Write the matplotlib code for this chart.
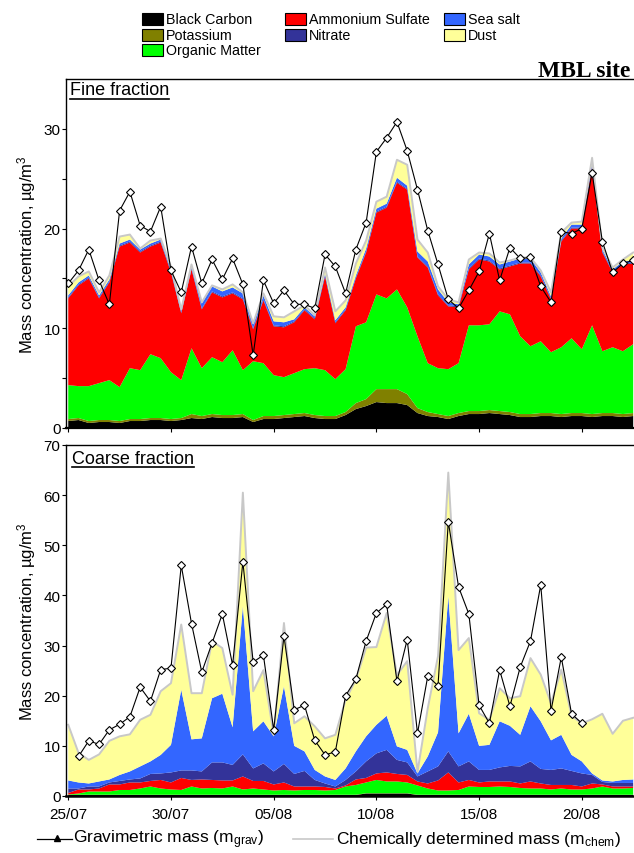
import numpy as np
import matplotlib
matplotlib.use('Agg')
import matplotlib.pyplot as plt
from matplotlib.patches import Rectangle
from matplotlib.lines import Line2D

plt.rcParams['font.family'] = ['Liberation Sans', 'DejaVu Sans']
plt.rcParams['mathtext.fontset'] = 'custom'
plt.rcParams['mathtext.rm'] = 'Liberation Sans'
plt.rcParams['mathtext.it'] = 'Liberation Sans:italic'

# half-day samples, 25/07 -> 22/08
x = np.arange(56)
tick_pos = [0, 10, 20, 30, 40, 50]
tick_labels = ['25/07', '30/07', '05/08', '10/08', '15/08', '20/08']

species = ['Black Carbon', 'Potassium', 'Organic Matter',
           'Ammonium Sulfate', 'Nitrate', 'Sea salt', 'Dust']
colors = ['#000000', '#808000', '#00ff00', '#ff0000', '#333399', '#3366ff', '#ffff99']

# ---------------- fine fraction (ug/m3) ----------------
fine_bc = [0.7, 0.8, 0.5, 0.6, 0.6, 0.5, 0.7, 0.7, 0.8, 0.8,
           0.7, 0.8, 1.0, 0.9, 1.1, 1.0, 1.0, 1.1, 0.6, 0.9,
           0.9, 1.0, 1.1, 1.2, 1.0, 0.9, 0.9, 1.3, 1.9, 2.2,
           2.6, 2.5, 2.5, 2.3, 1.5, 1.2, 1.1, 0.9, 1.2, 1.4,
           1.4, 1.5, 1.4, 1.3, 1.1, 1.1, 1.2, 1.2, 1.1, 1.2,
           1.2, 1.1, 1.2, 1.2, 1.1, 1.2]
fine_k = [0.2, 0.2, 0.2, 0.2, 0.2, 0.2, 0.2, 0.2, 0.2, 0.2,
          0.2, 0.2, 0.4, 0.3, 0.3, 0.3, 0.3, 0.3, 0.2, 0.3,
          0.3, 0.3, 0.3, 0.3, 0.3, 0.3, 0.3, 0.3, 0.6, 0.7,
          1.3, 1.4, 1.4, 1.1, 0.5, 0.4, 0.3, 0.3, 0.3, 0.3,
          0.3, 0.3, 0.3, 0.3, 0.3, 0.3, 0.3, 0.3, 0.3, 0.3,
          0.3, 0.3, 0.3, 0.3, 0.3, 0.3]
# top of organic matter band (BC + K + OM)
fine_top_om = [4.3, 4.2, 4.2, 4.5, 4.8, 4.1, 6.0, 5.8, 7.4, 7.0,
               5.6, 4.8, 8.0, 6.0, 7.1, 6.6, 7.8, 5.8, 6.7, 6.5,
               5.3, 5.1, 5.5, 5.9, 6.0, 5.8, 4.9, 5.9, 10.2, 10.6,
               13.4, 13.0, 13.9, 12.1, 9.2, 6.5, 6.0, 5.9, 6.5, 10.3,
               10.3, 10.4, 11.7, 11.4, 9.2, 8.2, 8.7, 7.6, 8.1, 9.0,
               7.9, 10.3, 7.7, 8.1, 7.7, 8.4]
# top of ammonium sulfate band
fine_top_as = [13.0, 14.3, 15.0, 13.0, 14.6, 18.2, 18.6, 17.6, 18.2, 18.6,
               15.6, 11.5, 15.9, 11.9, 13.6, 13.1, 13.5, 12.9, 9.9, 12.8,
               10.2, 10.1, 10.6, 11.8, 10.9, 15.2, 10.5, 11.8, 15.0, 17.6,
               21.6, 22.1, 24.6, 23.9, 17.1, 16.1, 13.3, 12.2, 12.1, 15.9,
               16.9, 16.7, 15.9, 16.2, 16.5, 16.5, 15.2, 12.9, 18.7, 20.0,
               20.0, 26.2, 17.6, 15.6, 16.4, 16.5]
fine_nit = [0.1] * 56
fine_ss = [0.2, 0.2, 0.2, 0.2, 0.2, 0.2, 0.2, 0.2, 0.2, 0.2,
           0.2, 0.2, 0.2, 0.5, 0.5, 0.5, 0.5, 0.5, 0.4, 0.4,
           0.4, 0.4, 0.2, 0.2, 0.2, 0.2, 0.2, 0.2, 0.2, 0.3,
           0.3, 0.3, 0.4, 0.3, 0.5, 0.5, 0.5, 0.3, 0.2, 0.4,
           0.4, 0.4, 0.4, 0.4, 0.4, 0.4, 0.3, 0.2, 0.2, 0.3,
           0.3, 0.3, 0.2, 0.2, 0.2, 0.2]
fine_chem = [14.2, 15.2, 15.7, 13.6, 15.3, 19.2, 19.4, 18.0, 18.8, 19.0,
             16.2, 11.9, 16.4, 12.6, 14.3, 13.9, 14.4, 13.6, 10.5, 13.5,
             11.2, 11.1, 11.7, 12.3, 11.3, 16.1, 11.7, 12.8, 16.5, 18.8,
             22.7, 23.2, 26.9, 26.4, 18.9, 17.6, 14.2, 12.9, 12.6, 16.9,
             17.6, 17.5, 16.6, 16.8, 17.1, 17.1, 15.8, 13.6, 19.6, 20.6,
             20.7, 27.1, 18.1, 16.1, 16.9, 17.6]
fine_grav = [14.5, 15.8, 17.9, 14.8, 12.4, 21.8, 23.7, 20.3, 19.7, 22.2,
             15.8, 13.6, 18.2, 14.5, 16.9, 14.9, 17.0, 14.4, 7.3, 14.8,
             12.5, 13.8, 12.4, 12.4, 12.0, 17.4, 16.2, 13.5, 17.9, 20.6,
             27.7, 29.1, 30.7, 27.8, 23.9, 19.8, 16.4, 12.9, 12.0, 13.8,
             15.7, 19.5, 14.8, 18.1, 17.0, 17.1, 14.2, 12.6, 19.7, 19.5,
             20.0, 25.6, 18.7, 15.6, 16.5, 16.8]

# ---------------- coarse fraction (ug/m3) ----------------
coarse_bc = [0.2] * 29 + [0.5, 0.5, 0.5, 0.5, 0.5] + [0.2] * 22
coarse_k = [0.05] * 56
coarse_top_om = [0.3, 0.5, 0.9, 0.9, 0.9, 1.2, 1.2, 1.5, 1.9, 1.5,
                 1.3, 1.2, 1.9, 1.5, 1.6, 1.5, 1.9, 1.3, 1.5, 1.3,
                 1.1, 1.2, 1.1, 1.2, 1.2, 1.1, 1.2, 1.9, 2.2, 2.7,
                 3.2, 2.9, 2.9, 2.7, 2.1, 1.5, 1.1, 1.1, 1.2, 1.9,
                 1.8, 1.8, 1.9, 1.8, 1.6, 1.5, 1.5, 1.3, 1.5, 1.3,
                 1.3, 1.5, 1.9, 1.5, 1.5, 1.6]
coarse_top_as = [0.6, 1.3, 1.3, 1.5, 2.3, 2.3, 2.7, 2.7, 3.0, 3.2,
                 2.7, 3.6, 3.2, 3.3, 3.2, 3.1, 3.1, 3.9, 3.0, 3.0,
                 2.3, 2.7, 1.9, 1.9, 1.9, 1.8, 1.5, 2.1, 3.3, 3.6,
                 4.5, 4.7, 4.4, 4.2, 2.9, 2.5, 3.1, 4.7, 2.7, 3.2,
                 2.7, 2.9, 2.9, 2.9, 2.5, 2.9, 2.5, 2.2, 2.2, 2.2,
                 1.9, 2.5, 2.3, 1.9, 1.9, 1.9]
coarse_top_nit = [1.5, 1.5, 1.9, 1.9, 2.7, 3.0, 3.3, 3.5, 4.4, 4.5,
                  4.7, 5.1, 5.1, 4.9, 6.7, 6.7, 6.2, 8.3, 5.5, 6.5,
                  4.9, 6.4, 4.4, 5.0, 3.2, 2.5, 1.9, 3.2, 4.9, 6.9,
                  8.5, 9.2, 7.2, 6.7, 3.9, 4.9, 5.9, 8.9, 5.9, 6.9,
                  5.2, 5.2, 5.7, 6.0, 5.9, 6.9, 5.4, 5.2, 5.5, 5.0,
                  4.5, 4.2, 2.8, 2.6, 2.6, 2.6]
coarse_top_ss = [3.1, 2.7, 2.5, 2.9, 3.3, 4.2, 4.9, 5.9, 6.9, 8.2,
                 10.2, 21.2, 11.3, 11.5, 19.5, 20.4, 13.7, 37.9, 12.9, 14.9,
                 11.9, 21.9, 10.0, 8.9, 5.2, 3.9, 3.2, 5.5, 8.9, 11.9,
                 14.2, 16.0, 9.9, 9.2, 4.5, 7.9, 12.7, 39.9, 12.5, 16.4,
                 10.0, 10.2, 14.9, 14.0, 12.2, 17.9, 14.9, 11.1, 12.2, 8.2,
                 6.9, 4.5, 3.1, 2.9, 3.2, 3.3]
coarse_chem = [14.2, 8.6, 7.2, 8.3, 11.0, 11.9, 12.3, 15.2, 16.2, 20.9,
               22.5, 34.2, 20.5, 20.5, 30.9, 29.5, 20.2, 60.5, 20.9, 25.1,
               12.2, 34.5, 14.5, 15.9, 13.9, 11.5, 12.2, 19.2, 23.2, 29.6,
               29.7, 36.5, 24.1, 26.9, 4.8, 17.5, 27.9, 64.5, 29.1, 31.5,
               16.5, 15.2, 21.5, 19.5, 19.9, 27.5, 24.2, 18.5, 25.2, 16.0,
               14.5, 15.3, 16.4, 12.4, 15.0, 15.6]
nan = np.nan
coarse_grav = [nan, 7.9, 11.0, 10.3, 13.2, 14.3, 15.8, 21.7, 18.9, 25.2,
               25.5, 46.0, 34.4, 24.7, 30.5, 36.3, 26.1, 46.7, 26.7, 28.1,
               13.2, 31.9, 17.2, 18.1, 11.1, 8.2, 8.8, 20.0, 23.3, 30.9,
               36.5, 38.2, 22.9, 31.2, 12.5, 23.9, 22.0, 54.7, 41.7, 36.3,
               18.1, 14.5, 25.1, 17.9, 25.7, 30.9, 42.1, 17.0, 27.7, 16.4,
               14.5, nan, nan, nan, nan, nan]


def fine_layers():
    bc = np.array(fine_bc)
    k = np.array(fine_k)
    om = np.array(fine_top_om) - bc - k
    am = np.array(fine_top_as) - np.array(fine_top_om)
    nit = np.array(fine_nit)
    ss = np.array(fine_ss)
    dust = np.clip(np.array(fine_chem) - np.array(fine_top_as) - nit - ss, 0, None)
    return [bc, k, om, am, nit, ss, dust]


def coarse_layers():
    bc = np.array(coarse_bc)
    k = np.array(coarse_k)
    om = np.array(coarse_top_om) - bc - k
    am = np.array(coarse_top_as) - np.array(coarse_top_om)
    nit = np.array(coarse_top_nit) - np.array(coarse_top_as)
    ss = np.array(coarse_top_ss) - np.array(coarse_top_nit)
    dust = np.clip(np.array(coarse_chem) - np.array(coarse_top_ss), 0, None)
    return [bc, k, om, am, nit, ss, dust]


W, H = 634, 854
fig = plt.figure(figsize=(W / 100, H / 100), dpi=100)
ax1 = fig.add_axes([66 / W, 1 - 429 / H, 1 - 66 / W, 349 / H])
ax2 = fig.add_axes([66 / W, 1 - 797 / H, 1 - 66 / W, 351 / H])


def draw_panel(ax, layers, chem, grav, ymax, yticks, minor):
    ax.stackplot(x, *layers, colors=colors, linewidth=0)
    ax.plot(x, chem, color='#c8c8c8', lw=1.4)
    ax.plot(x, grav, color='black', lw=0.8, marker='D', ms=4.5,
            mfc='white', mec='black', mew=0.8)
    ax.set_xlim(-0.22, 55.08)
    ax.set_ylim(0, ymax)
    ax.set_yticks(yticks)
    ax.set_yticks(minor, minor=True)
    ax.set_xticks(tick_pos)
    ax.tick_params(direction='out', length=3, width=0.8, labelsize=11, pad=1)
    ax.tick_params(axis='x', pad=5)
    ax.tick_params(which='minor', direction='out', length=3, width=0.8)
    ax.spines['right'].set_visible(False)
    for s in ['left', 'top', 'bottom']:
        ax.spines[s].set_linewidth(1.0)
    ax.set_ylabel('Mass concentration, µg/m$^3$', fontsize=12, labelpad=4)


draw_panel(ax1, fine_layers(), fine_chem, fine_grav, 35,
           [0, 10, 20, 30], [5, 15, 25])
ax1.set_xticklabels([])
ax1.spines['bottom'].set_linewidth(1.6)

draw_panel(ax2, coarse_layers(), coarse_chem, coarse_grav, 70,
           [0, 10, 20, 30, 40, 50, 60, 70], [])
ax2.set_xticklabels(tick_labels)
ax2.spines['bottom'].set_linewidth(1.8)

# panel titles, underlined
t1 = ax1.text(0.007, 0.993, 'Fine fraction', transform=ax1.transAxes,
              fontsize=13, va='top', ha='left')
t2 = ax2.text(0.011, 0.987, 'Coarse fraction', transform=ax2.transAxes,
              fontsize=13, va='top', ha='left')
fig.canvas.draw()
r = fig.canvas.get_renderer()
for t in (t1, t2):
    bb = t.get_window_extent(r)
    y0 = (bb.y0 - 0.5) / H
    fig.add_artist(Line2D([bb.x0 / W, bb.x1 / W], [y0, y0], color='black', lw=1.2))

fig.text(630 / W, 1 - 77 / H, 'MBL site', fontsize=17, fontweight='bold',
         family='Liberation Serif', ha='right', va='baseline')

# species legend at top
legend_pos = [(142, 19.5), (142, 35.5), (142, 51), (285, 19.5), (285, 35.5),
              (444, 19.5), (444, 35.5)]
for name, col, (px, py) in zip(species, colors, legend_pos):
    fig.add_artist(Rectangle((px / W, 1 - (py + 6) / H), 21 / W, 12 / H,
                             facecolor=col, edgecolor='black', lw=0.8))
    fig.text((px + 24) / W, 1 - py / H, name, fontsize=10.3, va='center', ha='left')

# line legend at bottom
ly = 1 - 840 / H
fig.add_artist(Line2D([37 / W, 72 / W], [ly, ly], color='black', lw=0.9))
fig.add_artist(Line2D([57 / W], [ly + 1.5 / H], color='black', marker='^', ms=5))
fig.text(73 / W, ly, 'Gravimetric mass (m$_{\\mathrm{grav}}$)', fontsize=12.5,
         va='center', ha='left')
fig.add_artist(Line2D([293 / W, 333 / W], [ly, ly], color='#c8c8c8', lw=1.2))
fig.text(336 / W, ly, 'Chemically determined mass (m$_{\\mathrm{chem}}$)', fontsize=12.5,
         va='center', ha='left')

fig.savefig('out.png', dpi=100)
